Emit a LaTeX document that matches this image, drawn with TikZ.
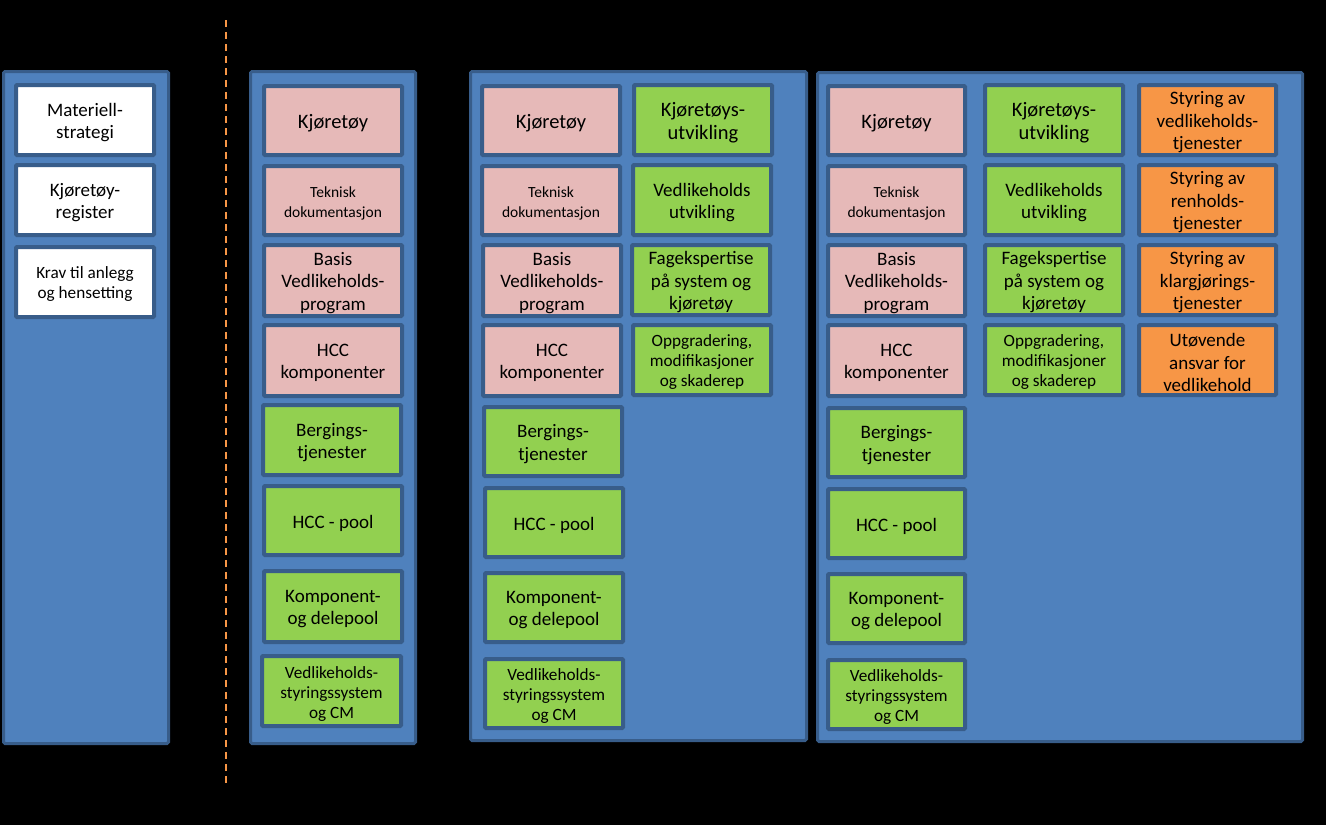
\documentclass[tikz,border=0pt]{standalone}
\usepackage{fontspec}
\setmainfont{Carlito}
\definecolor{panelfill}{HTML}{4F81BD}
\definecolor{edge}{HTML}{385D8A}
\definecolor{pinkc}{HTML}{E6B9B8}
\definecolor{greenc}{HTML}{92D050}
\definecolor{orangec}{HTML}{F79646}
\newcommand{\bx}[8]{%
  \pgfmathsetmacro{\mybw}{#4-#2-4}\pgfmathsetmacro{\mybh}{#5-#3-4}%
  \pgfmathsetmacro{\mycx}{(#2+#4)/2}\pgfmathsetmacro{\mycy}{(#3+#5)/2}%
  \node[cell,#6,minimum width=\mybw pt,minimum height=\mybh pt,
        label={[txtbase,#7]center:{#8}}] (#1) at (\mycx,\mycy) {};}
\newcommand{\pn}[5]{%
  \pgfmathsetmacro{\mybw}{#4-#2-3}\pgfmathsetmacro{\mybh}{#5-#3-3}%
  \pgfmathsetmacro{\mycx}{(#2+#4)/2}\pgfmathsetmacro{\mycy}{(#3+#5)/2}%
  \node[panel,minimum width=\mybw pt,minimum height=\mybh pt] (#1) at (\mycx,\mycy) {};}
\begin{document}
\begin{tikzpicture}[x=1pt,y=-1pt,
  cell/.style={draw=edge,line width=4pt,rounded corners=1pt,inner sep=0pt},
  panel/.style={draw=edge,fill=panelfill,line width=3pt,rounded corners=1.5pt,inner sep=0pt},
  txtbase/.style={inner sep=0pt,align=center,text=black,yshift=-2.5pt},
  txtL/.style={font=\fontsize{20.5}{23}\selectfont},
  txtM/.style={font=\fontsize{19}{22.5}\selectfont},
  txtS/.style={font=\fontsize{17.2}{20}\selectfont},
  txtT/.style={font=\fontsize{15.5}{20}\selectfont},
  wh/.style={fill=white},
  pk/.style={fill=pinkc},
  gr/.style={fill=greenc},
  og/.style={fill=orangec},
  dashline/.style={draw=orangec,line width=2.3pt,dash pattern=on 7pt off 5pt}]
\fill[black] (0,0) rectangle (1326,825);
\useasboundingbox (0,0) rectangle (1326,825);
% dashed separator
\coordinate (dtop) at (226,20);
\coordinate (dbot) at (226,783);
\draw[dashline] (dtop) -- (dbot);
% panels
\pn{P1}{2}{70}{170}{745}
\pn{P2}{249}{70}{417}{745}
\pn{P3}{469}{70}{808}{742}
\pn{P4}{816}{71}{1304}{743}
% panel 1
\bx{a1}{14}{83}{156}{157}{wh}{txtM}{Materiell-\\strategi}
\bx{a2}{14}{163}{156}{237}{wh}{txtM}{Kjøretøy-\\register}
\bx{a3}{14}{245}{156}{319}{wh}{txtS}{Krav til anlegg\\og hensetting}
% panel 2
\bx{b1}{262}{84}{404}{157}{pk}{txtL}{Kjøretøy}
\bx{b2}{262}{164}{404}{237}{pk}{txtT}{Teknisk\\dokumentasjon}
\bx{b3}{262}{243}{404}{318}{pk}{txtM}{Basis\\Vedlikeholds-\\program}
\bx{b4}{262}{323}{404}{398}{pk}{txtM}{HCC\\komponenter}
\bx{b5}{261}{403}{403}{477}{gr}{txtM}{Bergings-\\tjenester}
\bx{b6}{262}{484}{404}{557}{gr}{txtM}{HCC - pool}
\bx{b7}{262}{569}{404}{644}{gr}{txtM}{Komponent-\\og delepool}
\bx{b8}{260}{654}{403}{728}{gr}{txtS}{Vedlikeholds-\\styringssystem\\og CM}
% panel 3
\bx{c1}{480}{84}{622}{157}{pk}{txtL}{Kjøretøy}
\bx{c2}{480}{164}{622}{237}{pk}{txtT}{Teknisk\\dokumentasjon}
\bx{c3}{481}{243}{623}{318}{pk}{txtM}{Basis\\Vedlikeholds-\\program}
\bx{c4}{481}{323}{623}{398}{pk}{txtM}{HCC\\komponenter}
\bx{c5}{482}{405}{624}{478}{gr}{txtM}{Bergings-\\tjenester}
\bx{c6}{483}{486}{625}{559}{gr}{txtM}{HCC - pool}
\bx{c7}{483}{571}{625}{644}{gr}{txtM}{Komponent-\\og delepool}
\bx{c8}{483}{657}{625}{730}{gr}{txtS}{Vedlikeholds-\\styringssystem\\og CM}
\bx{d1}{632}{83}{774}{157}{gr}{txtL}{Kjøretøys-\\utvikling}
\bx{d2}{631}{163}{773}{237}{gr}{txtM}{Vedlikeholds\\utvikling}
\bx{d3}{630}{243}{772}{317}{gr}{txtM}{Fagekspertise\\på system og\\kjøretøy}
\bx{d4}{631}{323}{773}{397}{gr}{txtS}{Oppgradering,\\modifikasjoner\\og skaderep}
% panel 4
\bx{e1}{826}{84}{967}{157}{pk}{txtL}{Kjøretøy}
\bx{e2}{826}{164}{967}{237}{pk}{txtT}{Teknisk\\dokumentasjon}
\bx{e3}{826}{243}{967}{318}{pk}{txtM}{Basis\\Vedlikeholds-\\program}
\bx{e4}{826}{323}{967}{398}{pk}{txtM}{HCC\\komponenter}
\bx{e5}{826}{406}{967}{479}{gr}{txtM}{Bergings-\\tjenester}
\bx{e6}{826}{487}{967}{560}{gr}{txtM}{HCC - pool}
\bx{e7}{826}{572}{967}{645}{gr}{txtM}{Komponent-\\og delepool}
\bx{e8}{826}{658}{967}{731}{gr}{txtS}{Vedlikeholds-\\styringssystem\\og CM}
\bx{f1}{983}{83}{1125}{157}{gr}{txtL}{Kjøretøys-\\utvikling}
\bx{f2}{983}{163}{1125}{237}{gr}{txtM}{Vedlikeholds\\utvikling}
\bx{f3}{983}{243}{1125}{317}{gr}{txtM}{Fagekspertise\\på system og\\kjøretøy}
\bx{f4}{983}{323}{1125}{397}{gr}{txtS}{Oppgradering,\\modifikasjoner\\og skaderep}
\bx{g1}{1137}{83}{1278}{157}{og}{txtM}{Styring av\\vedlikeholds-\\tjenester}
\bx{g2}{1137}{163}{1278}{237}{og}{txtM}{Styring av\\renholds-\\tjenester}
\bx{g3}{1137}{243}{1278}{317}{og}{txtM}{Styring av\\klargjørings-\\tjenester}
\bx{g4}{1137}{323}{1278}{397}{og}{txtM}{Utøvende\\ansvar for\\vedlikehold}
\end{tikzpicture}
\end{document}
